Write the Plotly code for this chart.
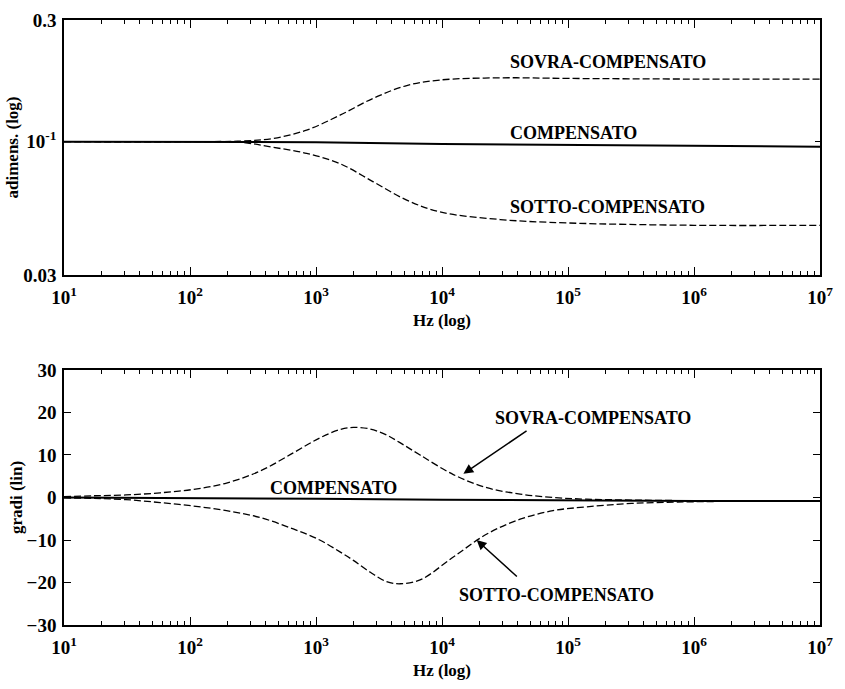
import plotly.graph_objects as go
from plotly.subplots import make_subplots
import math

# ---- Data ----
# Top: magnitude (adimensional, log)
freq_mag = [10, 100, 250, 458, 843, 1550, 2850, 5250, 9650, 29000, 100000, 1e6, 1e7]
sovra_mag = [0.1, 0.1, 0.1005, 0.103, 0.111, 0.127, 0.148, 0.166, 0.1745, 0.178, 0.177, 0.176, 0.176]
sotto_mag = [0.1, 0.1, 0.0995, 0.095, 0.090, 0.082, 0.0696, 0.059, 0.053, 0.0495, 0.048, 0.047, 0.047]
freq_comp_mag = [10, 1000, 10000, 100000, 1e7]
comp_mag = [0.1, 0.0995, 0.098, 0.097, 0.0955]

# Bottom: phase (degrees, linear)
freq_ph = [10, 17, 31, 58, 106, 195, 359, 660, 1070, 1550, 1980, 2700, 3630, 4640,
           6700, 12300, 22700, 41700, 76000, 140000, 320000, 1e6, 1e7]
sovra_ph = [0.2, 0.4, 0.6, 1.1, 1.9, 3.4, 6.2, 10.5, 14.0, 16.0, 16.5, 16.1, 14.7, 12.9,
            10.0, 5.4, 2.3, 0.8, 0.0, -0.4, -0.6, -0.75, -0.8]
sotto_ph = [-0.1, -0.2, -0.5, -1.2, -2.0, -3.1, -4.7, -7.4, -10.0, -12.8, -14.8, -17.6, -19.8, -20.3,
            -19.4, -14.0, -8.6, -5.1, -3.1, -2.2, -1.4, -1.0, -0.8]
freq_comp_ph = [10, 100, 1000, 10000, 100000, 1e6, 1e7]
comp_ph = [0, -0.1, -0.3, -0.55, -0.75, -0.8, -0.8]

x_tickvals = [1e1, 1e2, 1e3, 1e4, 1e5, 1e6, 1e7]
x_ticktext = ["10<sup>1</sup>", "10<sup>2</sup>", "10<sup>3</sup>", "10<sup>4</sup>",
              "10<sup>5</sup>", "10<sup>6</sup>", "10<sup>7</sup>"]
x_minor = [k * 10 ** n for n in range(1, 7) for k in range(2, 10)]
ymag_tickvals = [0.03, 0.1, 0.3]
ymag_ticktext = ["0.03", "10<sup>-1</sup>", "0.3"]
yph_tickvals = [-30, -20, -10, 0, 10, 20, 30]

FONT = "Liberation Serif"
tickfont = dict(family=FONT, size=19, color="black", weight="bold")
titlefont = dict(family=FONT, size=17, color="black", weight="bold")
labfont = dict(family=FONT, size=18, color="black", weight="bold")

fig = make_subplots(rows=2, cols=1)

dash = "7px,3px"
fig.add_trace(go.Scatter(x=freq_mag, y=sovra_mag, mode="lines", line_shape="spline",
                         line=dict(color="black", width=1.3, dash=dash)), row=1, col=1)
fig.add_trace(go.Scatter(x=freq_mag, y=sotto_mag, mode="lines", line_shape="spline",
                         line=dict(color="black", width=1.3, dash=dash)), row=1, col=1)
fig.add_trace(go.Scatter(x=freq_comp_mag, y=comp_mag, mode="lines",
                         line=dict(color="black", width=2)), row=1, col=1)

fig.add_trace(go.Scatter(x=freq_ph, y=sovra_ph, mode="lines", line_shape="spline",
                         line=dict(color="black", width=1.3, dash=dash)), row=2, col=1)
fig.add_trace(go.Scatter(x=freq_ph, y=sotto_ph, mode="lines", line_shape="spline",
                         line=dict(color="black", width=1.3, dash=dash)), row=2, col=1)
fig.add_trace(go.Scatter(x=freq_comp_ph, y=comp_ph, mode="lines",
                         line=dict(color="black", width=2)), row=2, col=1)

xaxis_common = dict(type="log", range=[1, 7], tickvals=x_tickvals, ticktext=x_ticktext,
                    ticks="inside", ticklen=8, tickwidth=1, tickcolor="black",
                    showline=True, linecolor="black", linewidth=1.5, mirror="ticks",
                    showgrid=False, zeroline=False, tickfont=tickfont, ticklabelstandoff=4,
                    automargin=False,
                    minor=dict(tickvals=x_minor, ticks="inside", ticklen=4,
                               tickcolor="black", tickwidth=1, showgrid=False),
                    title=dict(text="Hz (log)", font=titlefont, standoff=8))

fig.update_layout(
    width=845, height=689,
    margin=dict(l=64, r=25, t=20, b=64),
    paper_bgcolor="white", plot_bgcolor="white",
    showlegend=False,
    xaxis=dict(domain=[0, 1], anchor="y", **xaxis_common),
    xaxis2=dict(domain=[0, 1], anchor="y2", **xaxis_common),
    yaxis=dict(domain=[0.5785, 1], type="log", range=[math.log10(0.03), math.log10(0.3)],
               tickvals=ymag_tickvals, ticktext=ymag_ticktext,
               ticks="inside", ticklen=5, tickcolor="black",
               showline=True, linecolor="black", linewidth=1.5, mirror="ticks",
               showgrid=False, zeroline=False, tickfont=tickfont, ticklabelstandoff=2,
               automargin=False,
               title=dict(text="adimens. (log)", font=titlefont, standoff=0)),
    yaxis2=dict(domain=[0, 0.4215], range=[-30, 30], tickvals=yph_tickvals,
                ticks="inside", ticklen=7, tickcolor="black",
                showline=True, linecolor="black", linewidth=1.5, mirror="ticks",
                showgrid=False, zeroline=False, tickfont=tickfont, ticklabelstandoff=2,
                automargin=False,
                title=dict(text="gradi (lin)", font=titlefont, standoff=0)),
)

# Curve labels - top
fig.add_annotation(x=4.524, y=math.log10(0.205), xref="x", yref="y", text="SOVRA-COMPENSATO",
                   showarrow=False, xanchor="left", font=labfont)
fig.add_annotation(x=4.524, y=math.log10(0.1085), xref="x", yref="y", text="COMPENSATO",
                   showarrow=False, xanchor="left", font=labfont)
fig.add_annotation(x=4.524, y=math.log10(0.0554), xref="x", yref="y", text="SOTTO-COMPENSATO",
                   showarrow=False, xanchor="left", font=labfont)

# Curve labels - bottom
fig.add_annotation(x=4.405, y=18.7, xref="x2", yref="y2", text="SOVRA-COMPENSATO",
                   showarrow=False, xanchor="left", font=labfont)
fig.add_annotation(x=4.119, y=-22.9, xref="x2", yref="y2", text="SOTTO-COMPENSATO",
                   showarrow=False, xanchor="left", font=labfont)
fig.add_annotation(x=2.619, y=2.2, xref="x2", yref="y2", text="COMPENSATO",
                   showarrow=False, xanchor="left", font=labfont)

# Arrows
fig.add_annotation(x=4.17, y=5.6, ax=4.683, ay=15.9, xref="x2", yref="y2",
                   axref="x2", ayref="y2", text="", showarrow=True,
                   arrowhead=2, arrowsize=1.3, arrowwidth=1.5, arrowcolor="black")
fig.add_annotation(x=4.275, y=-10, ax=4.606, ay=-18.9, xref="x2", yref="y2",
                   axref="x2", ayref="y2", text="", showarrow=True,
                   arrowhead=2, arrowsize=1.3, arrowwidth=1.5, arrowcolor="black")

fig.write_html("out.html")
